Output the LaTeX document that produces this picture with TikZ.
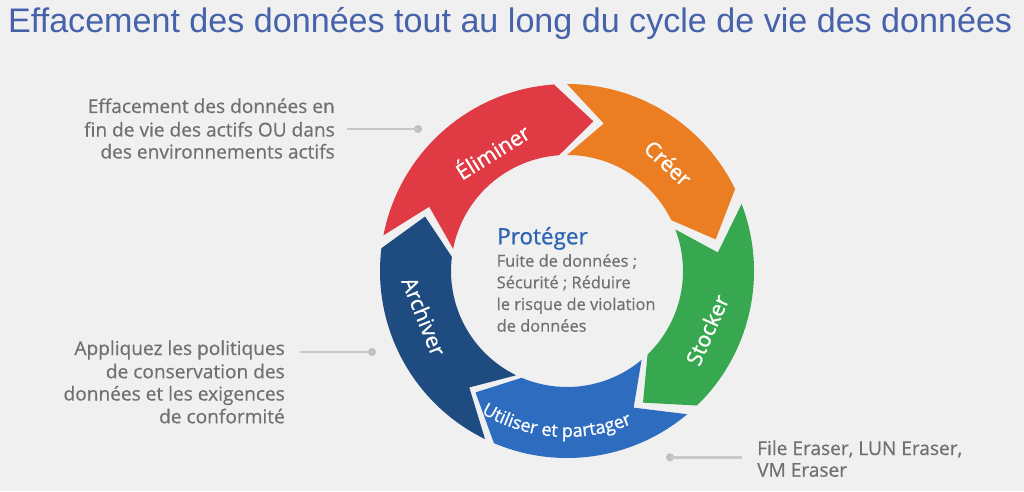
\documentclass[tikz,border=0pt]{standalone}
\usepackage{fontspec}
\usepackage{graphicx}
\setmainfont{Open Sans}
\newfontfamily\titlefont{Liberation Sans}
\newfontfamily\medfont[FakeBold=0.5]{Open Sans}
\newfontfamily\labfont[FakeBold=0.9]{Open Sans}
\usetikzlibrary{decorations.text}
\definecolor{bgcol}{RGB}{240,240,240}
\definecolor{titlecol}{RGB}{70,98,170}
\definecolor{anntext}{RGB}{112,112,116}
\definecolor{conncol}{RGB}{200,200,200}
\definecolor{dotcol}{RGB}{190,190,190}
\definecolor{protcol}{RGB}{45,100,180}
\definecolor{segred}{RGB}{224,58,68}
\definecolor{segorange}{RGB}{235,125,35}
\definecolor{seggreen}{RGB}{55,168,80}
\definecolor{segblue}{RGB}{45,108,190}
\definecolor{segdark}{RGB}{30,75,128}
\newcommand\ringseg[3]{\fill[#1] (#2:187pt) arc[start angle=#2, end angle=#3, radius=187pt] -- ({#3-14}:152pt) -- (#3:116pt) arc[start angle=#3, end angle=#2, radius=116pt] -- ({#2-14}:152pt) -- cycle;}
\tikzset{
  ann/.style={text=anntext, font=\medfont\fontsize{19.1}{22}\selectfont, inner sep=0pt},
  lab/.style={text=white, font=\labfont\fontsize{21.5}{24}\selectfont, inner sep=0pt},
  body/.style={text=anntext, font=\medfont\fontsize{16.4}{20}\selectfont, inner sep=0pt},
  conn/.style={draw=conncol, line width=2.5pt},
  dotnode/.style={circle, fill=dotcol, inner sep=0pt, minimum size=8pt},
}
\begin{document}
\begin{tikzpicture}[x=1pt,y=1pt]
\useasboundingbox (0,0) rectangle (1024,491);
\fill[bgcol] (0,0) rectangle (1024,491);
% title
\node[anchor=base west, inner sep=0pt, text=titlecol] (title) at (8,458) {\resizebox{1004pt}{!}{\titlefont\fontsize{35}{40}\selectfont Effacement des données tout au long du cycle de vie des données}};
% ring
\begin{scope}[shift={(567,220)}]
  \ringseg{segred}{169}{94}
  \ringseg{segorange}{90}{26}
  \ringseg{seggreen}{21}{-46}
  \ringseg{segblue}{-50}{-113}
  \ringseg{segdark}{-116}{-187}
  \node[lab, rotate=32] (elim) at (122:142) {Éliminer};
  \node[lab, rotate=-43] (creer) at (46.9:148) {Créer};
  \node[lab, rotate=66] (stock) at (-22.8:152) {Stocker};
  \node[lab, rotate=-68] (arch) at (197.6:150) {Archiver};
  \path[decorate, decoration={text along path, text align=center,
      text={|\labfont\fontsize{18}{20}\selectfont\color{white}|Utiliser et partager}}]
      (-127:166pt) arc[start angle=-127, end angle=-61, radius=166pt];
\end{scope}
% centre
\node[anchor=base west, inner sep=0pt, text=protcol, font=\labfont\fontsize{22.5}{26}\selectfont] (prot) at (497,246.7) {Protéger};
\node[body, anchor=base west] (b1) at (496.5,224.3) {Fuite de données ;};
\node[body, anchor=base west] (b2) at (496.5,202.7) {Sécurité ; Réduire};
\node[body, anchor=base west] (b3) at (496.5,181) {le risque de violation};
\node[body, anchor=base west] (b4) at (496.5,159.3) {de données};
% annotation 1
\node[ann, anchor=base east] (a11) at (335,378) {Effacement des données en};
\node[ann, anchor=base east] (a12) at (335,354.5) {fin de vie des actifs OU dans};
\node[ann, anchor=base east] (a13) at (335,332.5) {des environnements actifs};
\coordinate (c1) at (347,362);
\node[dotnode] (d1) at (418,362) {};
\draw[conn] (c1) -- (d1.center);
% annotation 2
\node[ann, anchor=base east] (a21) at (285,136) {Appliquez les politiques};
\node[ann, anchor=base east] (a22) at (285,112.7) {de conservation des};
\node[ann, anchor=base east] (a23) at (285,90.5) {données et les exigences};
\node[ann, anchor=base east] (a24) at (285,67.7) {de conformité};
\coordinate (c2) at (300,139);
\node[dotnode] (d2) at (372,139) {};
\draw[conn] (c2) -- (d2.center);
% annotation 3
\node[ann, anchor=base west] (a31) at (757,36) {File Eraser, LUN Eraser,};
\node[ann, anchor=base west] (a32) at (757,14.3) {VM Eraser};
\coordinate (c3) at (742,33.7);
\node[dotnode] (d3) at (670,33.7) {};
\draw[conn] (c3) -- (d3.center);
\end{tikzpicture}
\end{document}
